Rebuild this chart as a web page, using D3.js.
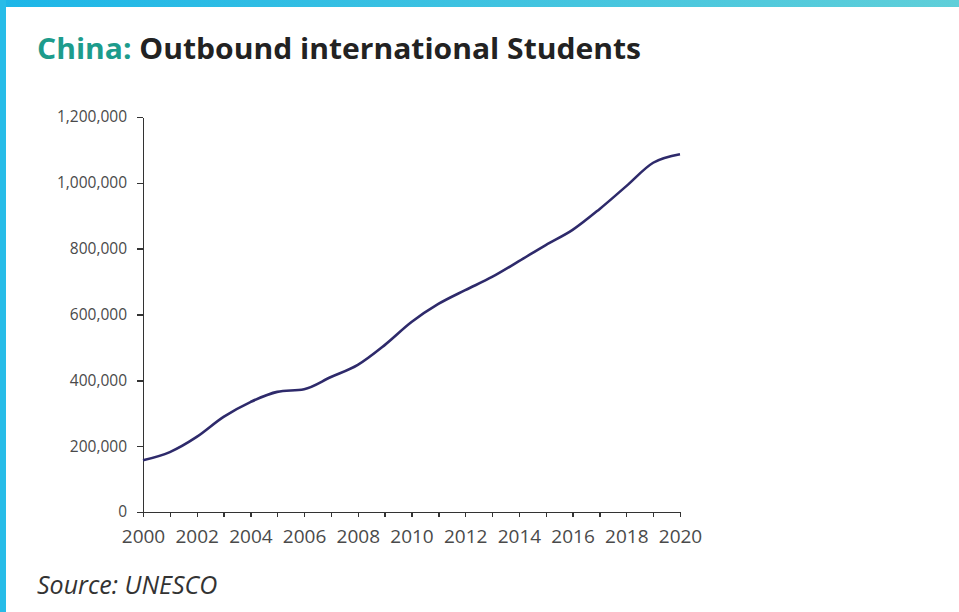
<!DOCTYPE html>
<head>
  <meta charset="utf-8">
  <script src="https://d3js.org/d3.v7.min.js"></script>
  <style>
    body { margin: 0; background: #fff; }
    .axis path, .axis line { stroke: #333; stroke-width: 1.4; shape-rendering: crispEdges; }
    .axis text { font-family: "Open Sans", sans-serif; fill: #4a4a4a; }
    .y.axis text { font-size: 15.5px; }
    .x.axis text { font-size: 19px; }
    .line { fill: none; stroke: #2e2a6b; stroke-width: 2.6; stroke-linejoin: round; }
  </style>
</head>
<body>
<div id="chart"></div>
<script>
// data
var years = [2000, 2001, 2002, 2003, 2004, 2005, 2006, 2007, 2008, 2009, 2010,
             2011, 2012, 2013, 2014, 2015, 2016, 2017, 2018, 2019, 2020];
var students = [157000, 182000, 228000, 289000, 334000, 365000, 373000, 410000, 447000, 507000, 577000,
                632000, 674000, 714000, 762000, 811000, 857000, 920000, 990000, 1061000, 1087000];
var yTicks = [0, 200000, 400000, 600000, 800000, 1000000, 1200000];
var xLabels = [2000, 2002, 2004, 2006, 2008, 2010, 2012, 2014, 2016, 2018, 2020];

var W = 959, H = 612;
var margin = {top: 117, right: 279, bottom: 100, left: 143},
    width = W - margin.left - margin.right,
    height = H - margin.top - margin.bottom;

var svg = d3.select("#chart").append("svg")
    .attr("width", W)
    .attr("height", H);

// cyan frame
var grad = svg.append("defs").append("linearGradient")
    .attr("id", "bar").attr("x1", "0").attr("x2", "1");
grad.append("stop").attr("offset", "0").attr("stop-color", "#1db6e8");
grad.append("stop").attr("offset", "1").attr("stop-color", "#5fcfd9");
svg.append("rect").attr("x", 0).attr("y", 0).attr("width", W).attr("height", 7).attr("fill", "url(#bar)");
svg.append("rect").attr("x", 0).attr("y", 0).attr("width", 6).attr("height", H).attr("fill", "#27bce8");

// title
var title = svg.append("text")
    .attr("x", 37).attr("y", 59)
    .attr("textLength", 604).attr("lengthAdjust", "spacingAndGlyphs")
    .style("font-family", "'Open Sans', sans-serif")
    .style("font-weight", "bold")
    .style("font-size", "28px");
title.append("tspan").attr("fill", "#1d9c8c").text("China: ");
title.append("tspan").attr("fill", "#222").text("Outbound international Students");

var g = svg.append("g")
    .attr("transform", "translate(" + margin.left + "," + margin.top + ")");

var x = d3.scaleLinear().domain([2000, 2020]).range([0, width]);
var y = d3.scaleLinear().domain([0, 1200000]).range([height, 0]);

g.append("g")
    .attr("class", "x axis")
    .attr("transform", "translate(0," + height + ")")
    .call(d3.axisBottom(x)
      .tickValues(years)
      .tickSizeInner(5).tickSizeOuter(0)
      .tickPadding(13)
      .tickFormat(function(d) { return xLabels.indexOf(d) >= 0 ? d : ""; }));

g.append("g")
    .attr("class", "y axis")
    .call(d3.axisLeft(y)
      .tickValues(yTicks)
      .tickSizeInner(6).tickSizeOuter(0)
      .tickPadding(10)
      .tickFormat(d3.format(",")));

var line = d3.line()
    .x(function(d, i) { return x(years[i]); })
    .y(function(d) { return y(d); })
    .curve(d3.curveMonotoneX);

g.append("path")
    .datum(students)
    .attr("class", "line")
    .attr("d", line);

// source
svg.append("text")
    .attr("x", 37).attr("y", 594)
    .style("font-family", "'Open Sans', sans-serif")
    .style("font-style", "italic")
    .style("font-size", "25px")
    .attr("fill", "#333")
    .text("Source: UNESCO");
</script>
</body>
